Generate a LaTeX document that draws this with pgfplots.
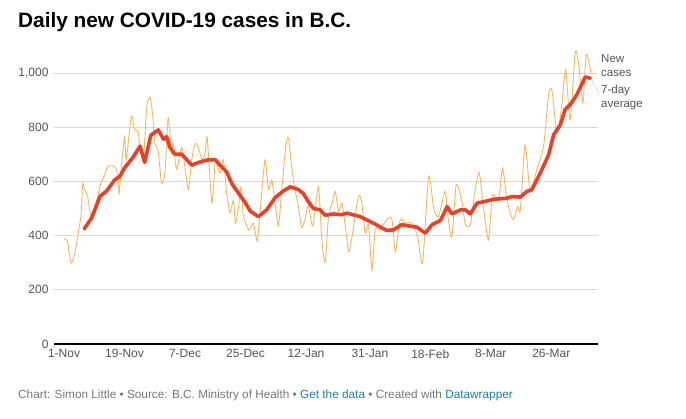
\documentclass[border=0pt]{standalone}
\usepackage{pgfplots}
\pgfplotsset{compat=1.18}
\usepackage{fontspec}
\setmainfont{Liberation Sans}
\definecolor{newc}{HTML}{F5B862}
\definecolor{avgc}{HTML}{E8412A}
\definecolor{gridc}{HTML}{D9D9D9}
\definecolor{foot}{HTML}{777777}
\definecolor{link}{HTML}{1D81A2}
\definecolor{tick}{HTML}{555555}
\begin{document}
\begin{tikzpicture}[x=1pt,y=1pt]
\fill[white] (0,0) rectangle (686,-419);
\node[anchor=base west,inner sep=0pt,font=\bfseries\fontsize{20.8}{24}\selectfont] at (18,-28) {Daily new COVID-19 cases in B.C.};
\node[anchor=base west,inner sep=0pt,font=\fontsize{11.8}{13}\selectfont,text=foot] at (18,-399) {Chart: Simon Little • Source: B.C. Ministry of Health • \textcolor{link}{Get the data} • Created with \textcolor{link}{Datawrapper}};
\begin{axis}[at={(54pt,-344pt)},anchor=south west,scale only axis,width=544pt,height=271pt,
 xmin=-3,xmax=158.9,ymin=0,ymax=1000,clip=false,
 axis x line*=bottom, axis y line*=left,
 x axis line style={black,line width=1.2pt,-},
 y axis line style={draw=none},
 ymajorgrids, grid style={gridc,line width=0.8pt},
 ytick={0,200,400,600,800,1000},
 yticklabels={0,200,400,600,800,{1,000}},
 xtick={0,18,36,54,72,91,109,127,145},
 xticklabels={1-Nov,19-Nov,7-Dec,25-Dec,12-Jan,31-Jan,18-Feb,8-Mar,26-Mar},
 major tick length=0pt,
 ticklabel style={font=\fontsize{12}{14}\selectfont,text=tick},
 xticklabel style={yshift=-2pt},
 yticklabel style={xshift=-2pt},
 ]
\addplot[newc,line width=0.9pt,smooth,tension=0.4] coordinates {
(0,387)(1,380)(2,300)(3,325)(5,470)(5.5,590)(6,575)(7,545)(8,470)(9.5,520)(11,595)(12,620)(13,655)(15,655)(16,625)(16.4,555)(17,645)(18,765)(18.5,680)(20,840)(21,790)(22,785)(22.6,730)(23.6,680)(24.6,875)(25.6,910)(26.4,840)(27,740)(28,715)(29,595)(30,630)(31,835)(32,700)(32.5,740)(33.5,645)(35,725)(36,650)(37,570)(38,680)(39,740)(40,725)(41,680)(42,705)(42.6,760)(44,520)(45,670)(46.4,630)(47.4,680)(48.4,555)(49.4,485)(50.4,530)(51,445)(52,510)(52.6,580)(53.4,470)(55,420)(56.3,445)(57.5,380)(58.3,485)(59.8,680)(60.8,570)(61.8,605)(62.8,520)(63.8,435)(64.8,570)(66,730)(66.8,760)(67.8,645)(68.8,565)(69.7,510)(70.7,430)(71.7,460)(72.7,510)(74,435)(75.7,580)(76.7,385)(77.7,300)(78.7,470)(80,530)(80.7,563)(81.7,489)(82.7,520)(83.7,433)(84.7,341)(85.7,397)(87.6,544)(88.6,520)(89.6,409)(90.6,440)(91.6,273)(92.6,421)(94,421)(95.6,452)(97.5,464)(98.6,341)(100,458)(101.5,446)(103.5,446)(105.2,397)(106.7,300)(108.5,618)(110,501)(111.4,470)(113.4,563)(114.1,483)(115.4,394)(116.7,587)(118.4,526)(119.4,440)(120.9,440)(122.1,550)(123.5,633)(124.8,507)(126.3,384)(127.5,550)(129.3,532)(130.5,649)(131.8,532)(133.6,458)(135,507)(135.8,495)(137.2,735)(138.7,563)(140.7,643)(142.7,729)(144.2,920)(145.2,936)(146.7,778)(148.1,877)(149.3,1012)(150.6,827)(152.1,1074)(153.1,1037)(154.4,889)(155.4,1068)(156.8,1000)};
\addplot[avgc,line width=3.6pt,line join=round,line cap=round] coordinates {
(6,425)(8.2,465)(10.7,545)(12.7,565)(15,605)(16.7,620)(18,650)(20.6,690)(22.6,730)(24,670)(25.8,770)(28,790)(29.6,755)(30.5,765)(31.5,725)(33,700)(35,700)(36.5,680)(38,660)(40,670)(41.5,675)(43,680)(45,680)(46.4,660)(48.4,635)(50,590)(52,555)(54,520)(55.4,490)(57.8,470)(60.3,495)(62.8,540)(65.3,565)(67.3,580)(69.7,570)(71.2,555)(72.7,525)(74.2,500)(76.2,495)(77.7,475)(80.2,480)(82.6,477)(84.2,483)(88.1,470)(92,446)(96,419)(98,421)(100.5,440)(105,431)(107.5,409)(109.5,440)(112,456)(114,507)(115.4,480)(118,495)(119.4,495)(120.9,480)(122.9,520)(125.3,526)(127.8,534)(131.8,538)(133.3,544)(135.8,542)(137.7,563)(139.2,569)(141.7,630)(144.2,698)(145.7,772)(147.7,809)(149.1,865)(150.6,883)(152.6,920)(155.1,985)(156.6,981)};
\draw[newc,densely dotted] (axis cs:157,1005) -- (axis cs:159.3,1045);
\draw[avgc,densely dotted] (axis cs:157,975) -- (axis cs:159.3,925);
\node[anchor=north west,align=left,font=\fontsize{11.5}{14}\selectfont,text=tick,inner sep=0pt] at (axis cs:159.8,1070) {New\\cases};
\node[anchor=north west,align=left,font=\fontsize{11.5}{14}\selectfont,text=tick,inner sep=0pt] at (axis cs:159.8,955) {7-day\\average};
\end{axis}
\end{tikzpicture}
\end{document}
